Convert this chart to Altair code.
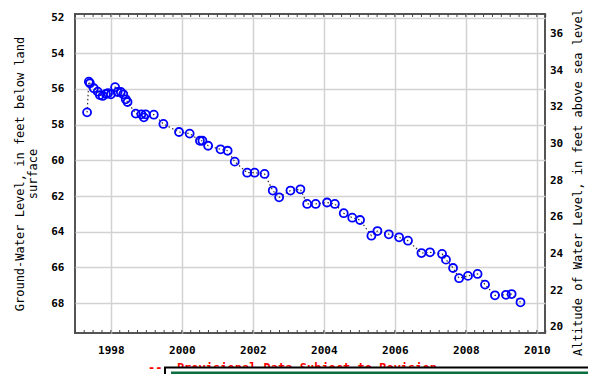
import altair as alt
import pandas as pd

# Decimal year of each measurement
years = [1997.33, 1997.38, 1997.41, 1997.52, 1997.63, 1997.69, 1997.77, 1997.86, 1997.92, 1998.00,
         1998.12, 1998.19, 1998.28, 1998.35, 1998.42, 1998.47, 1998.70, 1998.86, 1998.93, 1998.98,
         1999.21, 1999.48, 1999.92, 2000.22, 2000.51, 2000.58, 2000.74, 2001.09, 2001.29, 2001.49,
         2001.84, 2002.05, 2002.33, 2002.56, 2002.74, 2003.06, 2003.34, 2003.53, 2003.77, 2004.09,
         2004.31, 2004.56, 2004.80, 2005.02, 2005.34, 2005.51, 2005.83, 2006.12, 2006.37, 2006.75,
         2006.99, 2007.33, 2007.44, 2007.64, 2007.81, 2008.06, 2008.33, 2008.54, 2008.82, 2009.13,
         2009.29, 2009.54]
# Ground-water level, feet below land surface
depths = [57.31, 55.59, 55.68, 55.96, 56.15, 56.34, 56.39, 56.28, 56.24, 56.30,
          55.90, 56.17, 56.17, 56.30, 56.58, 56.73, 57.38, 57.42, 57.59, 57.42,
          57.44, 57.96, 58.41, 58.50, 58.90, 58.90, 59.18, 59.38, 59.46, 60.07,
          60.69, 60.69, 60.76, 61.69, 62.07, 61.69, 61.62, 62.44, 62.44, 62.36,
          62.44, 62.96, 63.21, 63.34, 64.22, 63.96, 64.14, 64.31, 64.50, 65.19,
          65.15, 65.24, 65.56, 66.03, 66.60, 66.47, 66.36, 66.96, 67.56, 67.53,
          67.49, 67.95]

land_surface_alt = 89.0
x_label_years = [1998, 2000, 2002, 2004, 2006, 2008, 2010]
depth_ticks = [52, 54, 56, 58, 60, 62, 64, 66, 68]
alt_ticks = [20, 22, 24, 26, 28, 30, 32, 34, 36]
quarter_ticks = [1997 + 0.25 * i for i in range(54)]

left_title = ["Ground-Water Level, in feet below land", "surface"]
right_title = "Altitude of Water Level, in feet above sea level"
note_text = "--- Provisional Data Subject to Revision ---"

df = pd.DataFrame({"year": years, "depth": depths})
tick_df = pd.DataFrame({"year": quarter_ticks})
one = pd.DataFrame({"k": [0]})

FONT = "DejaVu Sans Mono"
GRID = "#d2d2d2"

xscale = alt.Scale(domain=[1996.99, 2010.23], nice=False, zero=False)
xaxis = alt.Axis(values=x_label_years, format="d", title=None, grid=True,
                 gridColor=GRID, gridWidth=1.5, domain=False,
                 tickSize=3, tickColor="transparent", labelPadding=8,
                 labelFont=FONT, labelFontSize=11, labelFontWeight="bold",
                 labelColor="black")
X = alt.X("year:Q", scale=xscale, axis=xaxis)

yaxis_left = alt.Axis(values=depth_ticks, format="d", title=left_title, grid=True,
                      gridColor=GRID, gridWidth=1.5, domain=False,
                      tickSize=3, tickColor="transparent", labelPadding=8,
                      labelFont=FONT, labelFontSize=11, labelFontWeight="bold",
                      labelColor="black",
                      titleFont=FONT, titleFontSize=12, titleFontWeight="normal",
                      titleColor="black", titleAngle=270, titleX=-60.5, titleY=159.5,
                      titleAlign="center", titleBaseline="top", titleLineHeight=12.5)
Y = alt.Y("depth:Q", scale=alt.Scale(domain=[51.8, 69.67], reverse=True, nice=False, zero=False),
          axis=yaxis_left)

line = alt.Chart(df).mark_line(color="#333333", strokeWidth=1.2, strokeDash=[1.5, 2.5]).encode(x=X, y=Y)
pts = alt.Chart(df).mark_point(shape="circle", size=64, filled=False, color="#0000ff",
                               strokeWidth=1.8, opacity=1).encode(x=X, y=Y)

top_ticks = alt.Chart(tick_df).mark_rule(color="#444444", strokeWidth=1).encode(
    x=X, y=alt.value(0), y2=alt.value(3))
bot_ticks = alt.Chart(tick_df).mark_rule(color="#444444", strokeWidth=1).encode(
    x=X, y=alt.value(316), y2=alt.value(319))

note = alt.Chart(one).mark_text(text=note_text, font=FONT, fontSize=12, fontWeight="bold",
                                color="red", align="left", baseline="top").encode(
    x=alt.value(73), y=alt.value(349))
box_outer = alt.Chart(one).mark_rect(fill="white", stroke="black", strokeWidth=2).encode(
    x=alt.value(90), x2=alt.value(530), y=alt.value(353.5), y2=alt.value(372))
box_green = alt.Chart(one).mark_rect(fill="#0b6e3f").encode(
    x=alt.value(96), x2=alt.value(530), y=alt.value(357.5), y2=alt.value(372))

left_group = alt.layer(line, pts, top_ticks, bot_ticks, note, box_outer, box_green)

yaxis_right = alt.Axis(values=alt_ticks, format="d", title=right_title, orient="right",
                       grid=False, domain=False, tickSize=2, tickColor="transparent",
                       labelPadding=2.5, labelFont=FONT, labelFontSize=11,
                       labelFontWeight="bold", labelColor="black",
                       titleFont=FONT, titleFontSize=12, titleFontWeight="normal",
                       titleColor="black", titleAngle=270, titleX=27, titleY=168,
                       titleAlign="center", titleBaseline="top")
right_layer = alt.Chart(df).transform_calculate(
    alt_ft=f"{land_surface_alt} - datum.depth"
).mark_point(opacity=0).encode(
    x=X,
    y=alt.Y("alt_ft:Q", scale=alt.Scale(domain=[19.67, 37.06], nice=False, zero=False),
            axis=yaxis_right))

chart = alt.layer(left_group, right_layer).resolve_scale(y="independent").properties(
    width=470, height=319,
    padding={"left": 67, "top": 6, "right": 43, "bottom": 41},
    autosize=alt.AutoSizeParams(type="none"),
    background="white",
).configure_view(stroke="#555555", strokeWidth=2)

chart.save("out.html", embed_options={"renderer": "svg", "actions": False})
